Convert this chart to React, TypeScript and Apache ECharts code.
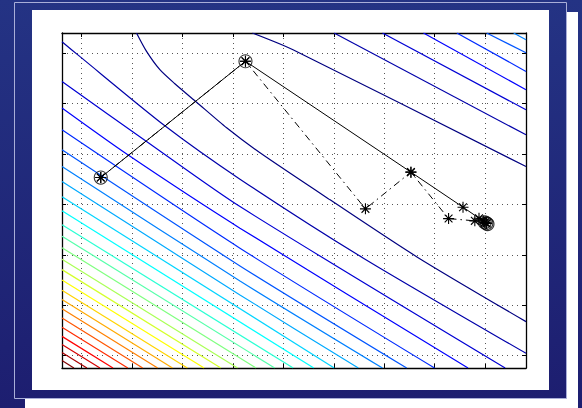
import React, { useEffect, useRef } from "react";
import * as echarts from "echarts";

// axis extents (data units; grid lines at integers)
const X_RANGE = [-0.385, 8.808];
const Y_RANGE = [-0.244, 6.397];

// jet colour palette, level 0 (lowest) .. 24 (highest)
const JET = [
  "#000080", "#0000aa", "#0000d4", "#0000ff", "#002bff", "#0055ff", "#0080ff",
  "#00aaff", "#00d4ff", "#00ffff", "#2bffd4", "#55ffaa", "#80ff80", "#aaff55",
  "#d4ff2b", "#ffff00", "#ffd400", "#ffaa00", "#ff8000", "#ff5500", "#ff2b00",
  "#ff0000", "#d40000", "#aa0000", "#800000",
];

// lower-left contour family, levels 2..24: y where it meets the left edge, x where it meets the bottom
const LOWER_LEFT_Y = [5.437, 4.909, 4.478, 4.081, 3.75, 3.454, 3.153, 2.873, 2.597, 2.369, 2.141, 1.913, 1.706, 1.502, 1.296, 1.113, 0.931, 0.748, 0.563, 0.383, 0.222, 0.062, -0.097];
const LOWER_BOTTOM_X = [8.395, 7.659, 6.996, 6.444, 5.964, 5.486, 5.008, 4.603, 4.196, 3.829, 3.46, 3.093, 2.762, 2.431, 2.099, 1.804, 1.51, 1.214, 0.919, 0.625, 0.367, 0.109, -0.149];
// where levels 2..7 cross x = 3.141 (they bend)
const LOWER_MID_X = 3.141;
const LOWER_MID_Y = [2.956, 2.528, 2.131, 1.78, 1.482, 1.204];
// where levels 2 and 3 cross the first path segment
const LOWER_EARLY = [[1.276, 4.256], [0.919, 3.982]];

// valley-side curves of level 0 and 1
const VALLEY_LOW_0 = [[1.091, 6.397], [1.29, 6.032], [1.554, 5.669], [1.851, 5.391], [2.282, 5.024], [2.877, 4.518], [3.538, 4.022], [4.927, 3.089], [6.647, 1.958], [8.808, 0.675]];
const VALLEY_LOW_1 = [[-0.385, 6.224], [-0.034, 5.933], [1.653, 4.558], [3.141, 3.5], [5.587, 1.933], [8.808, 0.048]];

// upper-right contour family, levels 0..6: x at the top edge, y at the right edge
const UPPER_TOP_X = [3.387, 5.006, 5.964, 6.776, 7.438, 8.028, 8.563];
const UPPER_RIGHT_Y = [3.75, 4.379, 4.875, 5.272, 5.635, 6.006, 6.264];
const UPPER_0_MID = [4.192, 6.065];

// optimisation paths
const PATH_SOLID = [[0.383, 3.532], [3.25, 5.837], [6.528, 3.639], [7.56, 2.944], [7.877, 2.726], [7.962, 2.671], [8.0, 2.645], [8.022, 2.627]];
const PATH_DASHDOT = [[0.383, 3.532], [3.25, 5.837], [5.627, 2.911], [6.528, 3.639], [7.274, 2.718], [7.794, 2.673], [7.99, 2.64], [8.03, 2.62]];
const CIRCLED = [[0.383, 3.532], [3.25, 5.837], [7.99, 2.645], [8.022, 2.627], [8.045, 2.61]];

const ASTERISK = "path://M0,-10L0,10M-10,0L10,0M-7.07,-7.07L7.07,7.07M-7.07,7.07L7.07,-7.07";

export default function App() {
  const ref = useRef<HTMLDivElement>(null);
  useEffect(() => {
    if (!ref.current) return;
    const chart = echarts.init(ref.current, null, { renderer: "svg" });

    const contours: { data: number[][]; level: number }[] = [];
    contours.push({ data: VALLEY_LOW_0, level: 0 });
    contours.push({ data: VALLEY_LOW_1, level: 1 });
    LOWER_LEFT_Y.forEach((y, i) => {
      const pts: number[][] = [[X_RANGE[0], y]];
      if (i < LOWER_EARLY.length) pts.push(LOWER_EARLY[i]);
      if (i < LOWER_MID_Y.length) pts.push([LOWER_MID_X, LOWER_MID_Y[i]]);
      pts.push([LOWER_BOTTOM_X[i], Y_RANGE[0]]);
      contours.push({ data: pts, level: i + 2 });
    });
    UPPER_TOP_X.forEach((x, i) => {
      const d = i === 0 ? [[x, Y_RANGE[1]], UPPER_0_MID, [X_RANGE[1], UPPER_RIGHT_Y[i]]] : [[x, Y_RANGE[1]], [X_RANGE[1], UPPER_RIGHT_Y[i]]];
      contours.push({ data: d, level: i });
    });

    const navy = new echarts.graphic.LinearGradient(0, 0, 0, 1, [
      { offset: 0, color: "#243384" },
      { offset: 1, color: "#1d1e70" },
    ]);

    const axisCommon = {
      type: "value" as const,
      minInterval: 1,
      maxInterval: 1,
      axisLine: { show: true, onZero: false, lineStyle: { color: "#000", width: 1.3 } },
      axisTick: { show: true, inside: true, length: 4, lineStyle: { color: "#000" } },
      axisLabel: { show: false },
    };
    const split = { show: true, lineStyle: { color: "#555", width: 1, type: [1, 4] } };

    chart.setOption({
      animation: false,
      graphic: [
        { type: "rect", z: -100, shape: { x: 0, y: 0, width: 582, height: 408 }, style: { fill: navy } },
        { type: "rect", z: -99, shape: { x: 25, y: 12, width: 553, height: 400 }, style: { fill: "#fff" } },
        { type: "rect", z: -98, shape: { x: 14.5, y: 2.5, width: 552, height: 396 }, style: { fill: navy, stroke: "#a9aed8", lineWidth: 1 } },
        { type: "rect", z: -97, shape: { x: 32, y: 10, width: 517, height: 380 }, style: { fill: "#fff" } },
      ],
      grid: { left: 62, top: 33, width: 464, height: 335, containLabel: false },
      xAxis: [
        { ...axisCommon, position: "bottom", min: X_RANGE[0], max: X_RANGE[1], splitLine: split },
        { ...axisCommon, position: "top", min: X_RANGE[0], max: X_RANGE[1], splitLine: { show: false } },
      ],
      yAxis: [
        { ...axisCommon, position: "left", min: Y_RANGE[0], max: Y_RANGE[1], splitLine: split },
        { ...axisCommon, position: "right", min: Y_RANGE[0], max: Y_RANGE[1], splitLine: { show: false } },
      ],
      series: [
        ...contours.map((c) => ({
          type: "line",
          data: c.data,
          showSymbol: false,
          smooth: c.data.length > 2 ? 0.25 : false,
          clip: true,
          silent: true,
          lineStyle: { color: JET[c.level], width: 1.2 },
          z: 2,
        })),
        {
          type: "line",
          data: PATH_DASHDOT,
          symbol: ASTERISK,
          symbolSize: 11,
          showAllSymbol: true,
          lineStyle: { color: "#000", width: 1, type: [7, 4, 1.5, 4] },
          itemStyle: { color: "#000", borderColor: "#000", borderWidth: 1.1 },
          z: 5,
        },
        {
          type: "line",
          data: PATH_SOLID,
          symbol: ASTERISK,
          symbolSize: 11,
          showAllSymbol: true,
          lineStyle: { color: "#000", width: 1 },
          itemStyle: { color: "#000", borderColor: "#000", borderWidth: 1.1 },
          z: 6,
        },
        {
          type: "scatter",
          data: CIRCLED,
          symbol: "circle",
          symbolSize: 13,
          itemStyle: { color: "rgba(0,0,0,0)", borderColor: "#000", borderWidth: 1.1 },
          z: 7,
        },
      ],
    });
    return () => chart.dispose();
  }, []);
  return <div ref={ref} style={{ position: "absolute", left: 0, top: 0, width: 582, height: 408 }} />;
}
